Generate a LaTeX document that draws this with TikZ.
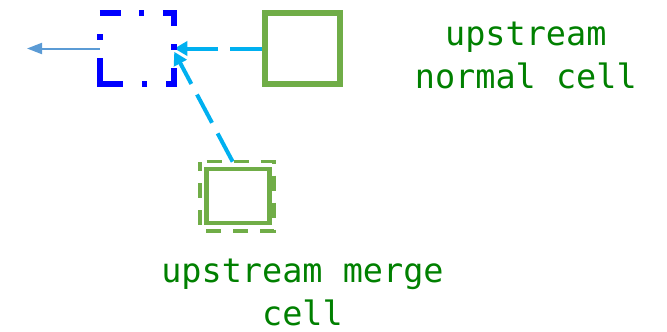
\documentclass[tikz,border=0pt]{standalone}
\usepackage{fontspec}
\usetikzlibrary{arrows.meta}
\newfontfamily\codefont{DejaVu Sans Mono}
\definecolor{cellgreen}{HTML}{70AD47}
\definecolor{linkcyan}{HTML}{00B0F0}
\definecolor{outblue}{HTML}{5B9BD5}
\definecolor{labelgreen}{HTML}{008000}
\definecolor{pureblue}{HTML}{0000FF}

\begin{document}
\begin{tikzpicture}[x=1pt,y=-1pt,
  cellbox/.style={rectangle, inner sep=0pt, minimum width=74.5pt, minimum height=70.7pt},
  normalcell/.style={cellbox, draw=cellgreen, line width=6pt},
  currentcell/.style={cellbox, outer sep=0pt},
  currentedge/.style={draw=pureblue, line width=6pt, line join=miter,
    dash pattern=on 21.3pt off 18pt on 5pt off 18.7pt on 24.2pt off 18.3pt on 6pt off 18pt
                 on 24pt off 18.8pt on 5.6pt off 18.6pt on 49.3pt off 18pt on 6pt off 21pt},
  mergeinner/.style={rectangle, inner sep=0pt, minimum width=63pt, minimum height=54.1pt,
    draw=cellgreen, line width=4.3pt},
  mergeouter/.style={rectangle, inner sep=0pt, outer sep=0pt, minimum width=73.8pt, minimum height=69.1pt},
  mergeedge/.style={draw=cellgreen, line width=3.5pt, line join=miter,
    dash pattern=on 15pt off 12pt, dash phase=20.3pt},
  link/.style={draw=linkcyan, line width=4pt, dash pattern=on 32pt off 12pt,
    -{Triangle[length=13pt,width=14pt]}},
  outlink/.style={draw=outblue, line width=2pt, -{Triangle[length=15pt,width=11pt]}},
  celllabel/.style={text=labelgreen, font=\codefont\fontsize{33.5pt}{43pt}\selectfont,
    align=center, inner sep=0pt, anchor=base}
]
\useasboundingbox (0,0) rectangle (667,332);

% cells
\node[currentcell] (cur) at (137,48.5) {};
\node[normalcell] (normal) at (302.4,48.5) {};
\node[mergeouter] (mergeout) at (236.9,196.2) {};
\node[mergeinner] (merge) at (238,195.8) {};
\coordinate (exit) at (27,48.5);

% connectors
\draw[outlink] (cur.west) -- (exit);
\draw[link] (normal.west) -- (cur.east);
\draw[link] (mergeout.97) -- (cur.-5);

% dashed outlines
\draw[currentedge] (cur.north west) -- (cur.north east) -- (cur.south east)
  -- (cur.south west) -- cycle;
\draw[mergeedge] (mergeout.north west) -- (mergeout.north east) -- (mergeout.south east)
  -- (mergeout.south west) -- cycle;

% labels (base anchor sits on the last line)
\node[celllabel] (normaltext) at (525.8,88.3) {upstream\\normal cell};
\node[celllabel] (mergetext) at (302.5,325) {upstream merge\\cell};
\end{tikzpicture}
\end{document}
